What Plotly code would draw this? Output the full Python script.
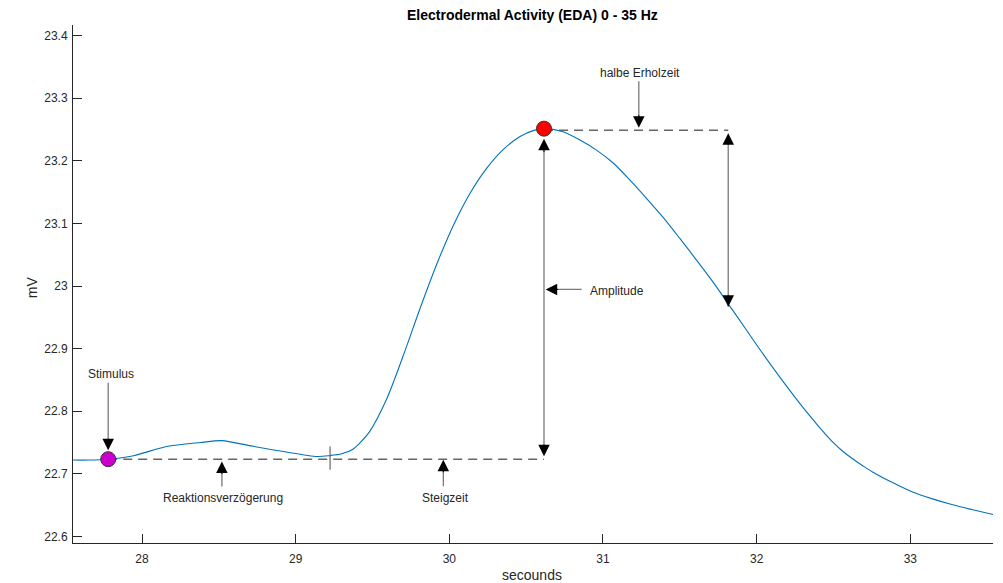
import plotly.graph_objects as go

# ---- data ----
time_s = [27.551, 27.65, 27.78, 27.945, 28.16, 28.38, 28.52, 28.70, 28.92, 29.14, 29.22,
          29.30, 29.37, 29.42, 29.48, 29.59, 29.70, 29.81, 29.92, 30.03, 30.135, 30.24, 30.35, 30.46,
          30.55, 30.616, 30.74, 30.85, 30.96, 31.07, 31.18, 31.28, 31.39, 31.50, 31.61,
          31.72, 31.825, 31.93, 32.02, 32.14, 32.26, 32.345, 32.42, 32.494, 32.56, 32.624,
          32.69, 32.754, 32.884, 33.014, 33.144, 33.27, 33.40, 33.538]
eda_mv = [22.722, 22.722, 22.7234, 22.729, 22.7436, 22.750, 22.753, 22.745, 22.7356, 22.7276, 22.729,
          22.732, 22.739, 22.750, 22.767, 22.8183, 22.8887, 22.9646, 23.0361, 23.0988, 23.1482, 23.1871,
          23.2179, 23.2388,
          23.2487, 23.2514, 23.2464, 23.2332, 23.2167, 23.1958, 23.168, 23.141, 23.110, 23.076, 23.041,
          23.005, 22.968, 22.931, 22.899, 22.858, 22.819, 22.793, 22.771, 22.751, 22.736, 22.724,
          22.713, 22.703, 22.686, 22.671, 22.660, 22.651, 22.643, 22.635]

stim_t, stim_v = 27.78, 22.7234          # stimulus point
peak_t, peak_v = 30.616, 23.2514         # peak point
onset_t = 29.224                          # response onset tick
onset_tick_lo, onset_tick_hi = 22.7066, 22.7436
half_t, half_top, half_v = 31.815, 23.249, 22.967   # half recovery

x_ticks = [28, 29, 30, 31, 32, 33]
y_ticks = [22.6, 22.7, 22.8, 22.9, 23.0, 23.1, 23.2, 23.3, 23.4]
y_ticktext = ["22.6", "22.7", "22.8", "22.9", "23", "23.1", "23.2", "23.3", "23.4"]
x_range = [27.551, 33.538]
y_range = [22.5895, 23.417]

# label texts and positions (data coords)
labels = [
    ("Stimulus", 27.80, 22.859, "center"),
    ("Reaktionsverzögerung", 28.529, 22.6617, "center"),
    ("Steigzeit", 29.977, 22.6617, "center"),
    ("Amplitude", 30.904, 22.992, "left"),
    ("halbe Erholzeit", 31.244, 23.340, "center"),
]
# label arrows: (tail_x, tail_y, tip_x, tip_y)
label_arrows = [
    (28.52, 22.6772, 28.52, 22.7196),
    (29.961, 22.6777, 29.961, 22.7223),
    (30.871, 22.9946, 30.627, 22.9946),
    (31.233, 23.3295, 31.233, 23.2530),
]

FONT = "Liberation Sans, Arial, Helvetica, sans-serif"
TXT = "#262626"
SHAFT = "#7a7a7a"
DASH = "#666666"
HEAD_STYLE = 2
HEAD_SIZE = 2.3
HEAD_W = 1.0

fig = go.Figure()
fig.add_trace(go.Scatter(x=time_s, y=eda_mv, mode="lines",
                         line=dict(color="#0072BD", width=1.1, shape="spline", smoothing=0.8),
                         hoverinfo="skip", showlegend=False))
fig.add_trace(go.Scatter(x=[stim_t], y=[stim_v], mode="markers",
                         marker=dict(size=15, color="#CC00CC", line=dict(color="#333333", width=1)),
                         showlegend=False))
fig.add_trace(go.Scatter(x=[peak_t], y=[peak_v], mode="markers",
                         marker=dict(size=15, color="#FF0000", line=dict(color="#333333", width=1)),
                         showlegend=False))

shapes = [
    dict(type="line", xref="x", yref="y", x0=stim_t, x1=peak_t, y0=stim_v, y1=stim_v,
         line=dict(color=DASH, width=1.5, dash="9px,6px"), layer="below"),
    dict(type="line", xref="x", yref="y", x0=peak_t, x1=half_t, y0=half_top, y1=half_top,
         line=dict(color=DASH, width=1.5, dash="9px,6px"), layer="below"),
    dict(type="line", xref="x", yref="y", x0=onset_t, x1=onset_t, y0=onset_tick_lo, y1=onset_tick_hi,
         line=dict(color=DASH, width=1.2)),
]

annotations = []

def shaft(x0, y0, x1, y1, standoff=0, startstandoff=0):
    annotations.append(dict(x=x1, y=y1, ax=x0, ay=y0, xref="x", yref="y", axref="x", ayref="y",
                            text="", showarrow=True, arrowhead=0, arrowwidth=1.3,
                            arrowcolor=SHAFT, standoff=standoff, startstandoff=startstandoff))

def head(x, y, dx, dy, standoff=0):
    # dx, dy: pixel offset from tip towards the tail
    annotations.append(dict(x=x, y=y, ax=dx, ay=dy, xref="x", yref="y",
                            text="", showarrow=True, arrowhead=HEAD_STYLE, arrowsize=HEAD_SIZE,
                            arrowwidth=HEAD_W, arrowcolor="black", standoff=standoff))

# amplitude double arrow
shaft(peak_t, stim_v, peak_t, peak_v, standoff=12, startstandoff=3)
head(peak_t, peak_v, 0, 25, standoff=10)
head(peak_t, stim_v, 0, -16, standoff=3)
# half recovery double arrow
shaft(half_t, half_top, half_t, half_v, standoff=0, startstandoff=3)
head(half_t, half_top, 0, 16, standoff=3)
head(half_t, half_v, 0, -13, standoff=0)
# stimulus arrow
annotations.append(dict(x=stim_t, y=stim_v, ax=0, ay=-78, xref="x", yref="y",
                        text="", showarrow=True, arrowhead=0, arrowwidth=1.3,
                        arrowcolor=SHAFT, standoff=10))
head(stim_t, stim_v, 0, -22, standoff=9)
# other label arrows
for tx, ty, hx, hy in label_arrows:
    shaft(tx, ty, hx, hy, standoff=3)
    if tx == hx:
        head(hx, hy, 0, 14 if ty < hy else -14)
    else:
        head(hx, hy, 14 if tx > hx else -14, 0)

for text, lx, ly, anchor in labels:
    annotations.append(dict(x=lx, y=ly, xref="x", yref="y", text=text, showarrow=False,
                            xanchor=anchor, yanchor="middle",
                            font=dict(family=FONT, size=12, color=TXT)))

# title, axis labels
annotations.append(dict(x=0.499, y=1.0193, xref="paper", yref="paper",
                        text="<b>Electrodermal Activity (EDA) 0 - 35 Hz</b>", showarrow=False,
                        xanchor="center", yanchor="middle",
                        font=dict(family=FONT, size=14, color="black")))
annotations.append(dict(x=0.499, y=-0.061, xref="paper", yref="paper", text="secounds",
                        showarrow=False, xanchor="center", yanchor="middle",
                        font=dict(family=FONT, size=14, color=TXT)))
annotations.append(dict(x=-0.0442, y=0.4945, xref="paper", yref="paper", text="mV",
                        showarrow=False, xanchor="center", yanchor="middle", textangle=-90,
                        font=dict(family=FONT, size=14, color=TXT)))

fig.update_layout(
    width=1003, height=583,
    margin=dict(l=73, r=10, t=25, b=40, pad=0),
    paper_bgcolor="white", plot_bgcolor="white",
    shapes=shapes, annotations=annotations,
    showlegend=False,
    font=dict(family=FONT, size=12, color=TXT),
    xaxis=dict(range=x_range, tickvals=x_ticks, ticks="inside", ticklen=9, tickwidth=1,
               tickcolor=TXT, showline=True, linecolor=TXT, linewidth=1, mirror=False,
               showgrid=False, zeroline=False, ticklabelstandoff=5,
               tickfont=dict(family=FONT, size=12, color=TXT)),
    yaxis=dict(range=y_range, tickvals=y_ticks, ticktext=y_ticktext, ticks="inside", ticklen=9,
               tickwidth=1, tickcolor=TXT, showline=True, linecolor=TXT, linewidth=1, mirror=False,
               showgrid=False, zeroline=False, ticklabelstandoff=2,
               tickfont=dict(family=FONT, size=12, color=TXT)),
)

fig.write_html("out.html", config={"displayModeBar": False},
               post_script="document.body.style.margin='0px';document.body.style.overflow='hidden';")
